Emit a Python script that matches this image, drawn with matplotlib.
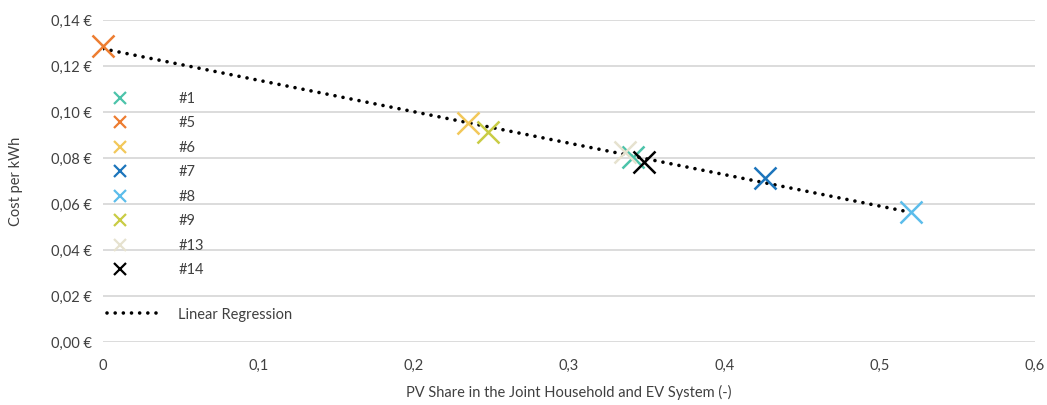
import numpy as np
import matplotlib
matplotlib.use("Agg")
import matplotlib.pyplot as plt
from matplotlib.lines import Line2D
from matplotlib.ticker import FuncFormatter

plt.rcParams['font.family'] = ['Lato', 'DejaVu Sans']

# PV share and cost per kWh for each household
labels = ["#1", "#5", "#6", "#7", "#8", "#9", "#13", "#14"]
pv_share = [0.341, 0.000, 0.235, 0.426, 0.520, 0.248, 0.336, 0.348]
cost_kwh = [0.0804, 0.1287, 0.0952, 0.0713, 0.0565, 0.0913, 0.0826, 0.0783]
colors = ["#4cc3aa", "#ed7d31", "#f2c85a", "#1c75bc", "#5cbdeb",
          "#c9cc44", "#e6e2cf", "#000000"]

x_ticks = [0, 0.1, 0.2, 0.3, 0.4, 0.5, 0.6]
y_ticks = [0.00, 0.02, 0.04, 0.06, 0.08, 0.10, 0.12, 0.14]

fig = plt.figure(figsize=(10.47, 4.05), dpi=100)
ax = fig.add_axes([0.0984, 0.1556, 0.8901, 0.7950])

# horizontal grid
for yv in y_ticks:
    ax.axhline(yv, color="#d9d9d9", lw=1.3, zorder=0)

# linear regression through all points, over the data range
slope, intercept = np.polyfit(pv_share, cost_kwh, 1)
xr = np.array([min(pv_share), max(pv_share)])
reg_style = dict(color="black", lw=2.6, linestyle=(0, (0.01, 2.25)),
                 dash_capstyle="round")
ax.plot(xr, slope * xr + intercept, zorder=3, **reg_style)

for x, y, c in zip(pv_share, cost_kwh, colors):
    ax.plot(x, y, marker="x", ms=16, mew=1.8, color=c, ls="none",
            zorder=4, clip_on=False)

ax.set_xlim(0, 0.6)
ax.set_ylim(0, 0.14)
ax.set_xticks(x_ticks)
ax.set_yticks(y_ticks)
ax.xaxis.set_major_formatter(FuncFormatter(
    lambda v, p: "0" if v == 0 else f"{v:.1f}".replace(".", ",")))
ax.yaxis.set_major_formatter(FuncFormatter(
    lambda v, p: f"{v:.2f} €".replace(".", ",")))
for s in ax.spines.values():
    s.set_visible(False)
ax.tick_params(length=0, labelsize=10.5, colors="#404040", pad=8)
ax.tick_params(axis="x", pad=12)

ax.set_xlabel("PV Share in the Joint Household and EV System (-)",
              fontsize=10.5, color="#404040", labelpad=9)
ax.set_ylabel("Cost per kWh", fontsize=10.5, color="#404040", labelpad=20)

handles = [Line2D([], [], marker="x", ms=8, mew=1.6, color=c, ls="none")
           for c in colors]
leg1 = ax.legend(handles, labels, loc="upper left",
                 bbox_to_anchor=(0.004, 0.795), frameon=False,
                 fontsize=10.5, handlelength=1.0, handletextpad=3.55,
                 labelspacing=0.72, borderaxespad=0.0,
                 labelcolor="#404040")
ax.add_artist(leg1)
leg2 = ax.legend([Line2D([], [], **reg_style)], ["Linear Regression"],
                 loc="upper left", bbox_to_anchor=(-0.002, 0.125),
                 frameon=False, fontsize=10.5, handlelength=3.5,
                 handletextpad=1.4, borderaxespad=0.0, labelcolor="#404040")

fig.savefig("out.png", dpi=100)
